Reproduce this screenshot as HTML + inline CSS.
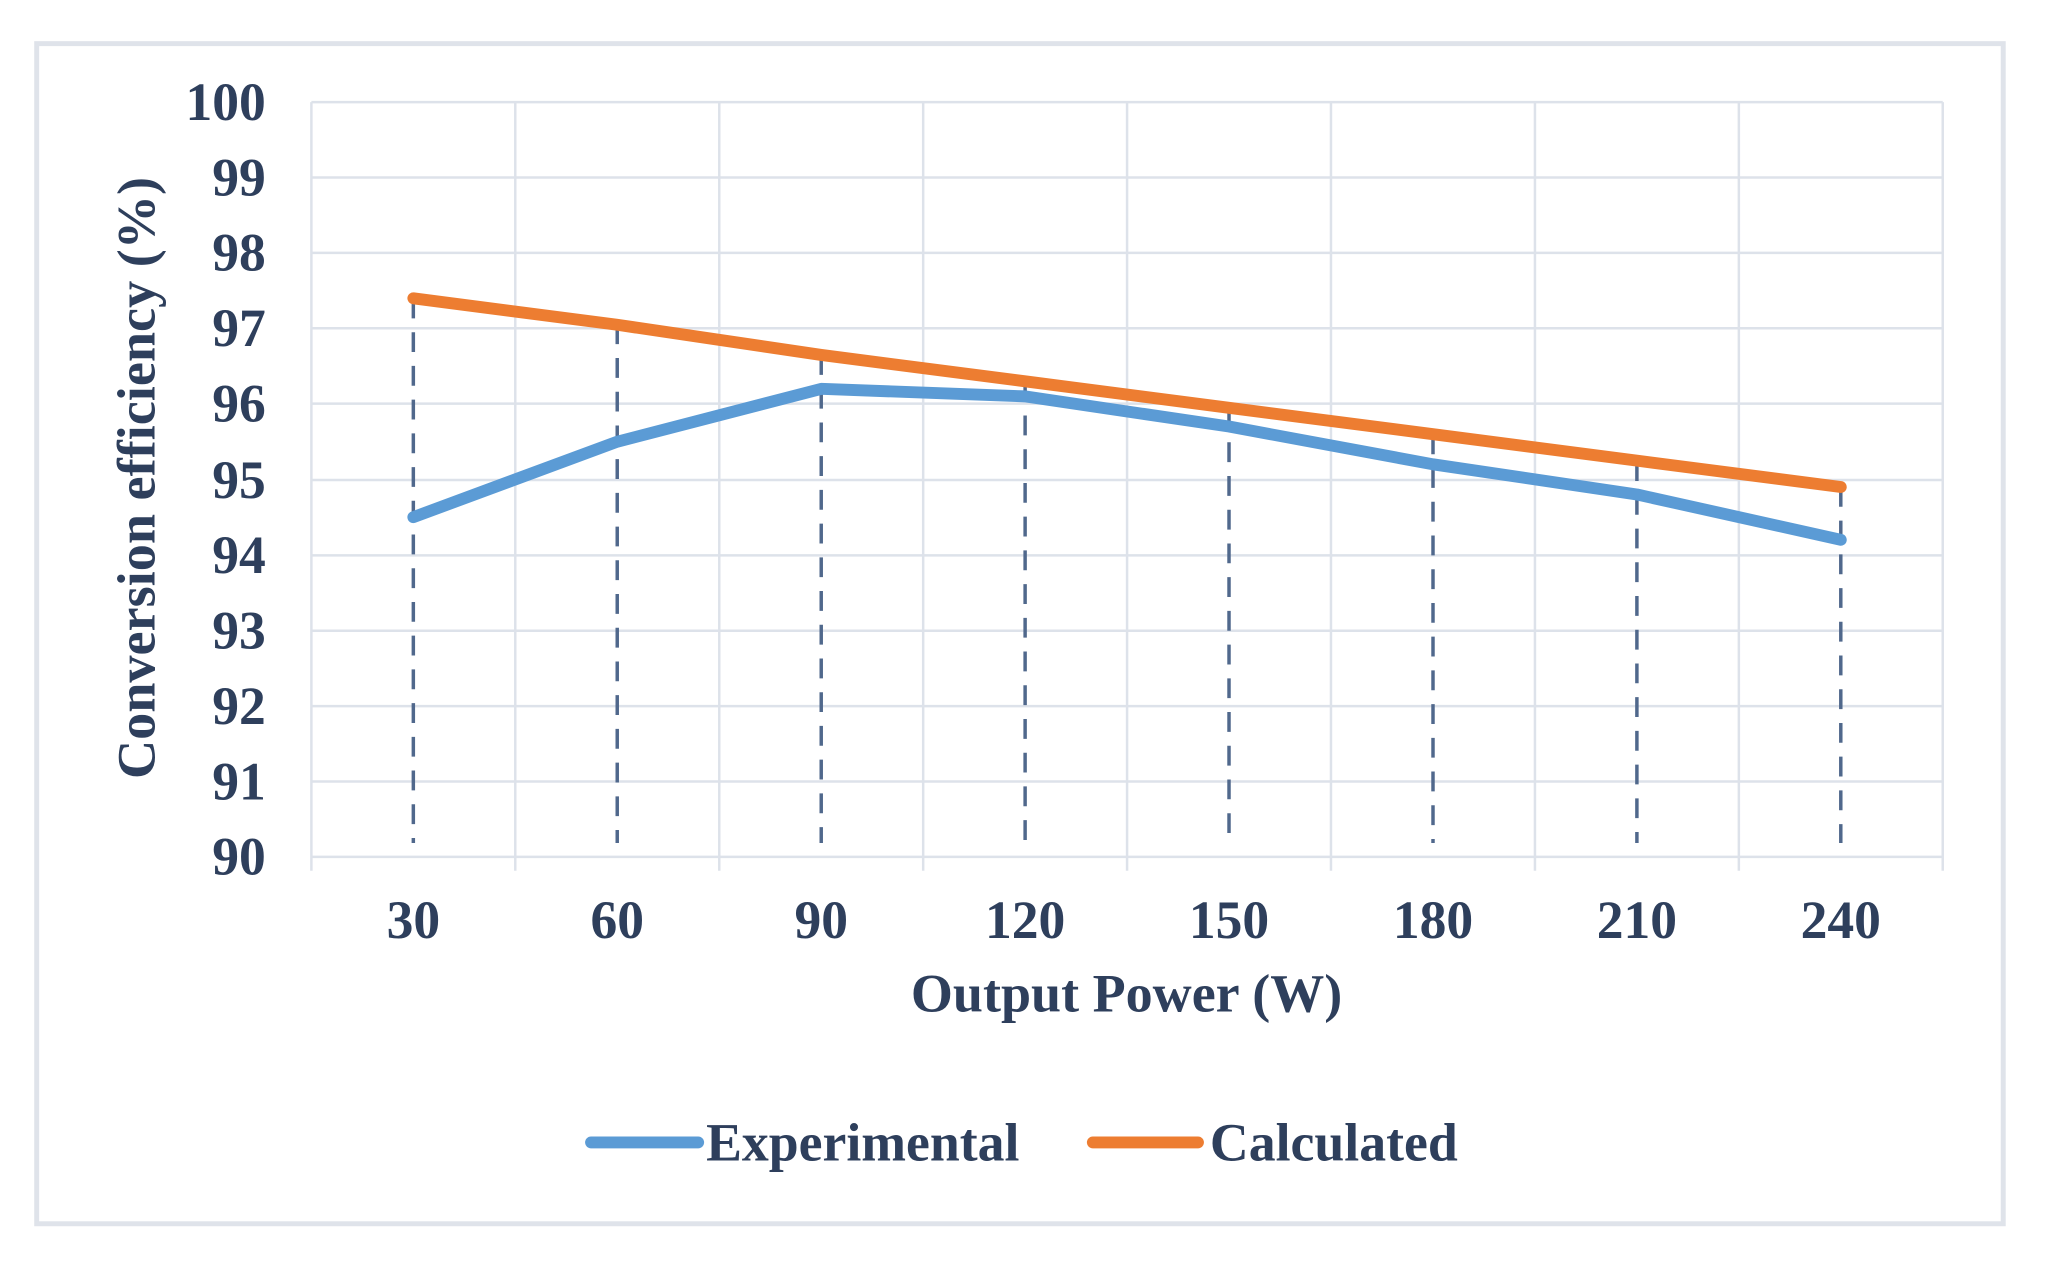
<!DOCTYPE html>
<html><head><meta charset="utf-8"><style>
html,body{margin:0;padding:0;background:#fff;}
svg{display:block;}
text{font-family:"Liberation Serif",serif;font-weight:bold;fill:#2e3f5c;}
</style></head><body>
<svg width="2051" height="1269" viewBox="0 0 2051 1269" xmlns="http://www.w3.org/2000/svg">
<rect x="0" y="0" width="2051" height="1269" fill="#fff"/>
<g transform="scale(0.9917)">
<rect x="37" y="44" width="1983" height="1190" fill="#fff" stroke="#dfe3ea" stroke-width="5"/>
<g stroke="#dde2ea" stroke-width="2.5">
<line x1="314" y1="103" x2="1959" y2="103"/>
<line x1="314" y1="179" x2="1959" y2="179"/>
<line x1="314" y1="255" x2="1959" y2="255"/>
<line x1="314" y1="331" x2="1959" y2="331"/>
<line x1="314" y1="407" x2="1959" y2="407"/>
<line x1="314" y1="484" x2="1959" y2="484"/>
<line x1="314" y1="560" x2="1959" y2="560"/>
<line x1="314" y1="636" x2="1959" y2="636"/>
<line x1="314" y1="712" x2="1959" y2="712"/>
<line x1="314" y1="788" x2="1959" y2="788"/>
<line x1="314" y1="864" x2="1959" y2="864"/>
<line x1="314" y1="103" x2="314" y2="878"/>
<line x1="519.6" y1="103" x2="519.6" y2="878"/>
<line x1="725.3" y1="103" x2="725.3" y2="878"/>
<line x1="930.9" y1="103" x2="930.9" y2="878"/>
<line x1="1136.5" y1="103" x2="1136.5" y2="878"/>
<line x1="1342.1" y1="103" x2="1342.1" y2="878"/>
<line x1="1547.8" y1="103" x2="1547.8" y2="878"/>
<line x1="1753.4" y1="103" x2="1753.4" y2="878"/>
<line x1="1959" y1="103" x2="1959" y2="878"/>
</g>
<g stroke="#50688c" stroke-width="3.5" stroke-dasharray="20,14">
<line x1="416.8" y1="301" x2="416.8" y2="850"/>
<line x1="622.4" y1="327" x2="622.4" y2="850"/>
<line x1="828.1" y1="358" x2="828.1" y2="850"/>
<line x1="1033.7" y1="385" x2="1033.7" y2="850"/>
<line x1="1239.3" y1="412" x2="1239.3" y2="850"/>
<line x1="1445" y1="438" x2="1445" y2="850"/>
<line x1="1650.6" y1="465" x2="1650.6" y2="850"/>
<line x1="1856.2" y1="491" x2="1856.2" y2="850"/>
</g>
<polyline fill="none" stroke="#5b9bd5" stroke-width="12" stroke-linecap="round" stroke-linejoin="round"
points="416.8,521.5 622.4,445.4 828.1,392.1 1033.7,399.7 1239.3,430.1 1445,468.2 1650.6,498.6 1856.2,544.3"/>
<polyline fill="none" stroke="#ed7d31" stroke-width="12" stroke-linecap="round" stroke-linejoin="round"
points="416.8,300.8 622.4,327.5 828.1,357.9 1033.7,384.5 1239.3,411.2 1445,437.8 1650.6,464.5 1856.2,491.1"/>
<g font-size="54" text-anchor="end">
<text x="268" y="121">100</text>
<text x="268" y="197">99</text>
<text x="268" y="273">98</text>
<text x="268" y="349">97</text>
<text x="268" y="425">96</text>
<text x="268" y="502">95</text>
<text x="268" y="578">94</text>
<text x="268" y="654">93</text>
<text x="268" y="730">92</text>
<text x="268" y="806">91</text>
<text x="268" y="882">90</text>
</g>
<g font-size="54" text-anchor="middle">
<text x="416.8" y="946">30</text>
<text x="622.4" y="946">60</text>
<text x="828.1" y="946">90</text>
<text x="1033.7" y="946">120</text>
<text x="1239.3" y="946">150</text>
<text x="1445" y="946">180</text>
<text x="1650.6" y="946">210</text>
<text x="1856.2" y="946">240</text>
</g>
<text x="1136" y="1020" font-size="54" text-anchor="middle" textLength="435" lengthAdjust="spacingAndGlyphs">Output  Power (W)</text>
<text transform="translate(156,482) rotate(-90)" font-size="54" text-anchor="middle" textLength="607" lengthAdjust="spacingAndGlyphs">Conversion efficiency (%)</text>
<line x1="596" y1="1152" x2="704" y2="1152" stroke="#5b9bd5" stroke-width="12" stroke-linecap="round"/>
<text x="712" y="1170" font-size="54" textLength="316" lengthAdjust="spacingAndGlyphs">Experimental</text>
<line x1="1102" y1="1152" x2="1208" y2="1152" stroke="#ed7d31" stroke-width="12" stroke-linecap="round"/>
<text x="1220" y="1170" font-size="54" textLength="250" lengthAdjust="spacingAndGlyphs">Calculated</text>
</g>
</svg>
</body></html>
